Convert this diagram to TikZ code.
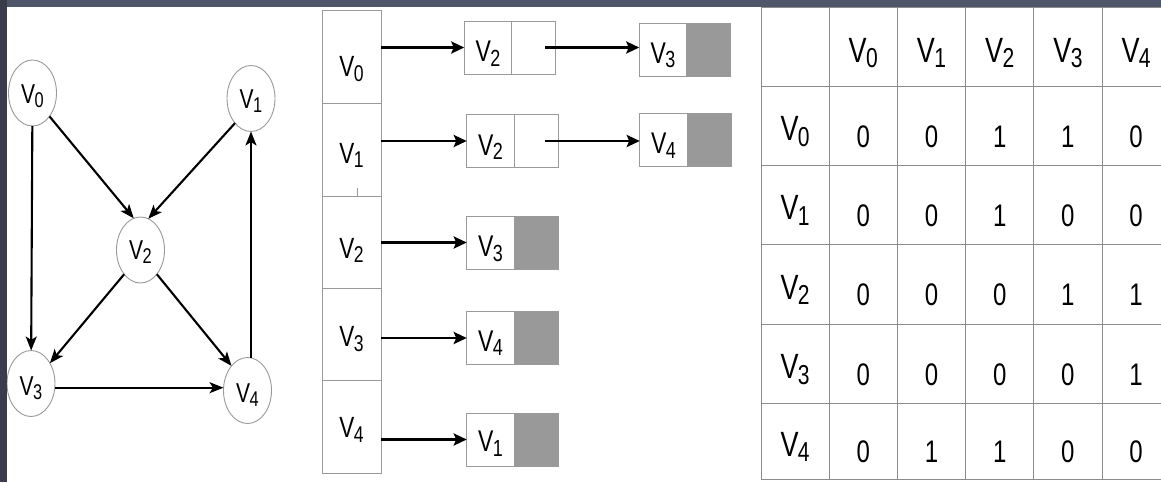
\documentclass[tikz,border=0pt]{standalone}
\usepackage{fontspec}
\setmainfont{Liberation Sans}
\usetikzlibrary{arrows.meta,shapes.geometric}

\definecolor{framebar}{HTML}{50566A}
\definecolor{frameside}{HTML}{3B3C4B}
\definecolor{rim}{HTML}{9A9A9A}
\definecolor{nilfill}{HTML}{999999}
\definecolor{rule}{HTML}{8C8C8C}

% narrow, tall lettering
\newcommand{\tall}[1]{\scalebox{1}[1.3]{#1}}
% vertex name V_i
\newcommand{\vl}[1]{\tall{V\kern-0.02em\raisebox{-0.16em}{\scalebox{0.78}{#1}}}}
% put the baseline of #2 the distance #1 below the node centre
\newcommand{\dropped}[2]{\raisebox{-#1}[0pt][0pt]{#2}}

\begin{document}
\begin{tikzpicture}[x=1pt,y=-1pt,
  vert/.style={ellipse, draw=rim, line width=0.9pt, fill=white, minimum width=48pt,
    minimum height=66pt, inner sep=0pt, outer sep=0pt, font=\fontsize{21}{21}\selectfont},
  arc/.style={line width=2.1pt, -{Stealth[length=14pt,width=11pt,inset=3.5pt]}},
  slot/.style={draw=rim, line width=0.9pt, minimum width=59pt, inner sep=0pt, outer sep=0pt,
    font=\fontsize{22.5}{23}\selectfont},
  item/.style={draw=rim, line width=0.9pt, fill=white, minimum width=47.5pt, minimum height=53pt,
    inner sep=0pt, outer sep=0pt, font=\fontsize{23}{23}\selectfont},
  link/.style={draw=rim, line width=0.9pt, fill=white, minimum width=44pt, minimum height=53pt,
    inner sep=0pt, outer sep=0pt},
  nil/.style={link, fill=nilfill},
  ptr/.style={line width=2.8pt, -{Stealth[length=13pt,width=12pt,inset=2.5pt]}},
  cell/.style={draw=rule, line width=0.9pt, minimum width=68.2pt, inner sep=0pt, outer sep=0pt},
  head/.style={font=\fontsize{27}{27}\selectfont},
  num/.style={font=\fontsize{24}{24}\selectfont},
]
\useasboundingbox (0,0) rectangle (1161,482);
\fill[white] (0,0) rectangle (1161,482);

% ---------- directed graph ----------
\node[vert] (v0) at (32.5,93)    {\dropped{10.5pt}{\vl{0}}};
\node[vert] (v1) at (251,98.5)   {\dropped{10pt}{\vl{1}}};
\node[vert] (v2) at (140.5,250)  {\dropped{9.5pt}{\vl{2}}};
\node[vert] (v3) at (31,383.5)   {\dropped{11.5pt}{\vl{3}}};
\node[vert] (v4) at (247.5,390.5){\dropped{11.5pt}{\vl{4}}};

\draw[arc] (v0) -- (v3);
\draw[arc] (v0.-54) -- (v2.102);
\draw[arc] (v1.237) -- (v2.76);
\draw[arc] (v2.236) -- (v3.47);
\draw[arc] (v2.304) -- (v4.123);
\draw[arc] (v3.-10) -- (v3.-10 -| v4.west);
\draw[arc] (v4.north -| v1) -- (v1.south);

% ---------- adjacency list ----------
\node[slot, minimum height=93pt] (a0) at (351.5,56.5)  {\dropped{20pt}{\vl{0}}};
\node[slot, minimum height=93pt] (a1) at (351.5,149.5) {\dropped{13.5pt}{\vl{1}}};
\node[slot, minimum height=92pt] (a2) at (351.5,242)   {\dropped{16pt}{\vl{2}}};
\node[slot, minimum height=92pt] (a3) at (351.5,334)   {\dropped{12.5pt}{\vl{3}}};
\node[slot, minimum height=93pt] (a4) at (351.5,426.5) {\dropped{11pt}{\vl{4}}};
\draw[rim, line width=0.8pt] ([xshift=5.5pt]a1.south) -- ++(0,-8);

\node[item] (p0) at (488,47.5)   {\dropped{14pt}{\vl{2}}};
\node[link, anchor=west] (p0n) at (p0.east) {};
\node[item] (q0) at (663,49.5)   {\dropped{13.5pt}{\vl{3}}};
\node[nil, anchor=west] (q0n) at (q0.east) {};
\node[item] (p1) at (490.5,141)  {\dropped{14pt}{\vl{2}}};
\node[link, anchor=west] (p1n) at (p1.east) {};
\node[item] (q1) at (663.5,140)  {\dropped{13.5pt}{\vl{4}}};
\node[nil, anchor=west] (q1n) at (q1.east) {};
\node[item] (p2) at (490.5,242.5){\dropped{14pt}{\vl{3}}};
\node[nil, anchor=west] (p2n) at (p2.east) {};
\node[item] (p3) at (490.5,338)  {\dropped{13pt}{\vl{4}}};
\node[nil, anchor=west] (p3n) at (p3.east) {};
\node[item] (p4) at (490.5,439.5){\dropped{12pt}{\vl{1}}};
\node[nil, anchor=west] (p4n) at (p4.east) {};

\foreach \i in {0,...,4} \draw[ptr] (p\i.west -| a\i.east) -- (p\i.west);
\draw[ptr] ([xshift=11pt]p0n.center) -- (p0n.center -| q0.west);
\draw[ptr] ([xshift=9pt]p1n.center) -- (p1n.center -| q1.west);

% ---------- adjacency matrix ----------
\begin{scope}
\clip (0,0) rectangle (1161,482);
\node[cell, minimum height=79pt] (m-0-0) at (795.1,46.5) {};
\foreach \c/\v in {1/0,2/1,3/2,4/3,5/4}
  \node[cell, head, minimum height=79pt] (m-0-\c) at ({795.1+68.2*\c},46.5) {\dropped{15.5pt}{\vl{\v}}};
\foreach \r/\lb/\yt/\h/\xa/\xb/\xc/\xd/\xe in
  {1/0/86/79/0/0/1/1/0, 2/1/165/79/0/0/1/0/0, 3/2/244/80/0/0/0/1/1,
   4/3/324/79/0/0/0/0/1, 5/4/403/76/0/1/1/0/0} {
  \node[cell, head, minimum height={\h pt}] (m-\r-0) at (795.1,{\yt+\h/2}) {\dropped{15pt}{\vl{\lb}}};
  \foreach \c/\val in {1/\xa,2/\xb,3/\xc,4/\xd,5/\xe}
    \node[cell, num, minimum height={\h pt}] (m-\r-\c) at ({795.1+68.2*\c},{\yt+\h/2}) {\dropped{21.5pt}{\tall{\val}}};
}
\end{scope}

% ---------- frame ----------
\fill[framebar] (0,0) rectangle (1161,7);
\fill[frameside] (0,0) rectangle (7,482);
\end{tikzpicture}
\end{document}
